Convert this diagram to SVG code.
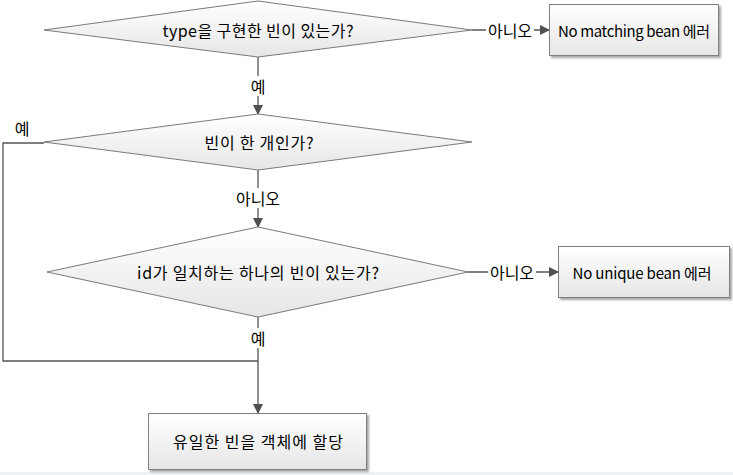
<svg xmlns="http://www.w3.org/2000/svg" width="733" height="475" viewBox="0 0 733 475">
<defs>
<linearGradient id="g" x1="0" y1="0" x2="0" y2="1">
<stop offset="0" stop-color="#ffffff"/>
<stop offset="1" stop-color="#e6e6e6"/>
</linearGradient>
<marker id="ah" markerWidth="10" markerHeight="10" refX="9" refY="5" orient="auto" markerUnits="userSpaceOnUse">
<path d="M0,0 L10,5 L0,10 Z" fill="#505050"/>
</marker>
<filter id="sh" x="-10%" y="-10%" width="130%" height="140%">
<feDropShadow dx="2" dy="2" stdDeviation="1" flood-color="#000" flood-opacity="0.35"/>
</filter>
</defs>
<style>
.shape{fill:url(#g);stroke:#7a7a7a;stroke-width:1}
.box{fill:url(#g);stroke:#808080;stroke-width:1;filter:url(#sh)}
.t{font-family:"Noto Sans CJK KR","Malgun Gothic",sans-serif;font-size:16px;fill:#000;text-anchor:middle;dominant-baseline:central}
.tb{font-family:"Noto Sans CJK KR","Malgun Gothic",sans-serif;font-size:15px;fill:#000;text-anchor:middle;dominant-baseline:central}
.lb{font-family:"Noto Sans CJK KR","Malgun Gothic",sans-serif;font-size:16px;fill:#000;text-anchor:middle;dominant-baseline:central}
.c{fill:none;stroke:#555;stroke-width:1.3}
.bg{fill:#fff}
</style>
<rect width="733" height="475" fill="#fff"/>
<rect x="0" y="472" width="733" height="3" fill="#eef2f6"/>
<g id="connectors">
<line class="c" x1="472" y1="30" x2="549" y2="30" marker-end="url(#ah)"/>
<line class="c" x1="258" y1="57" x2="258" y2="114" marker-end="url(#ah)"/>
<polyline class="c" points="44,143 3,143 3,361 258,361"/>
<line class="c" x1="258" y1="170" x2="258" y2="227" marker-end="url(#ah)"/>
<line class="c" x1="468" y1="272" x2="558" y2="272" marker-end="url(#ah)"/>
<line class="c" x1="258" y1="317" x2="258" y2="413" marker-end="url(#ah)"/>
<rect class="bg" x="486" y="20" width="48" height="20"/>
<text class="lb" x="510" y="30">아니오</text>
<rect class="bg" x="249" y="76" width="18" height="20"/>
<text class="lb" x="258" y="86">예</text>
<text class="lb" x="22" y="128">예</text>
<rect class="bg" x="234" y="188" width="48" height="20"/>
<text class="lb" x="258" y="198">아니오</text>
<rect class="bg" x="488" y="262" width="48" height="20"/>
<text class="lb" x="512" y="272">아니오</text>
<rect class="bg" x="249" y="328" width="18" height="20"/>
<text class="lb" x="258" y="338">예</text>
</g>
<g id="d1">
<polygon class="shape" points="258,1 472,30 258,57 44,30"/>
<text class="t" x="258" y="30" textLength="191" lengthAdjust="spacing">type을 구현한 빈이 있는가?</text>
</g>
<g id="b1">
<rect class="box" x="549.5" y="4.5" width="169" height="51"/>
<text class="tb" x="634" y="30" textLength="152" lengthAdjust="spacing">No matching bean 에러</text>
</g>
<g id="d2">
<polygon class="shape" points="258,114 472,142 258,170 44,142"/>
<text class="t" x="259" y="142" textLength="109" lengthAdjust="spacing">빈이 한 개인가?</text>
</g>
<g id="d3">
<polygon class="shape" points="258,227 468,272 258,317 47,272"/>
<text class="t" x="258" y="272" textLength="242" lengthAdjust="spacing">id가 일치하는 하나의 빈이 있는가?</text>
</g>
<g id="b2">
<rect class="box" x="558.5" y="246.5" width="171" height="51"/>
<text class="tb" x="642" y="272" textLength="139" lengthAdjust="spacing">No unique bean 에러</text>
</g>
<g id="b3">
<rect class="box" x="148.5" y="413.5" width="218" height="56"/>
<text class="t" x="258" y="441" textLength="170" lengthAdjust="spacing">유일한 빈을 객체에 할당</text>
</g>
</svg>
